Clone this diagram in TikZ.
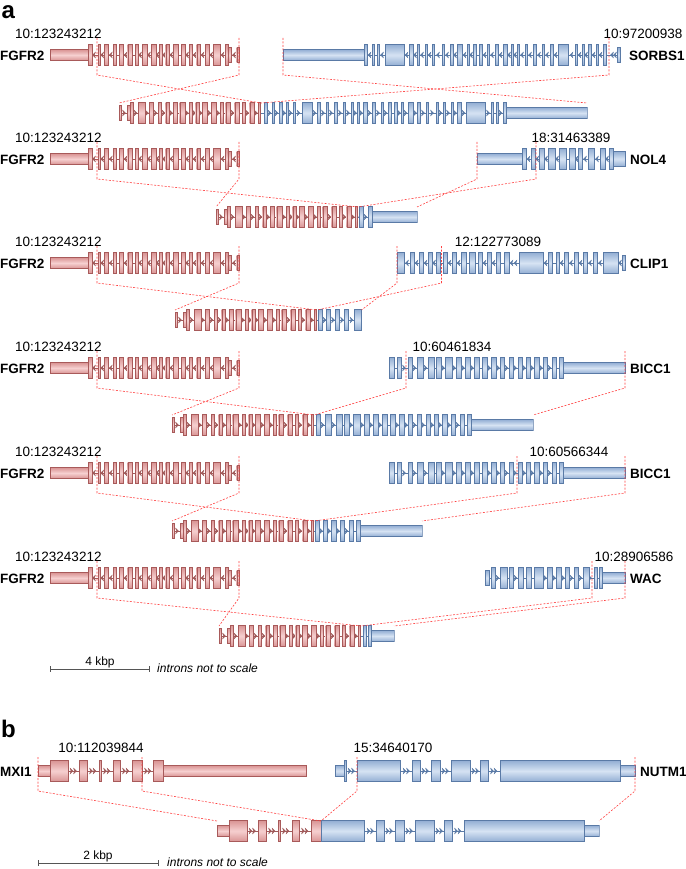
\documentclass[tikz,border=0pt]{standalone}
\usepackage{fontspec}
\setmainfont{Liberation Sans}
\definecolor{rE}{HTML}{D99494}
\definecolor{rM}{HTML}{F6D0D0}
\definecolor{rB}{HTML}{A85A5A}
\definecolor{rL}{HTML}{A05A5A}
\definecolor{bE}{HTML}{93AED4}
\definecolor{bM}{HTML}{D6E3F3}
\definecolor{bB}{HTML}{5A7AA6}
\definecolor{bL}{HTML}{5A7AA6}
\definecolor{lnk}{HTML}{FF4040}
\definecolor{sbar}{HTML}{555555}
\newcommand\lblfont{\fontsize{13.5}{16}\selectfont}
\tikzset{
 lbl/.style={font=\lblfont, inner sep=0pt},
 gname/.style={font=\bfseries\lblfont, inner sep=0pt},
 panel/.style={font=\bfseries\fontsize{24}{27}\selectfont, inner sep=0pt},
 note/.style={font=\itshape\fontsize{12}{14}\selectfont, inner sep=0pt},
 sbtext/.style={font=\fontsize{12}{14}\selectfont, inner sep=0pt},
 rexon/.style={draw=rB, line width=0.4pt, top color=rE, bottom color=rE, middle color=rM},
 bexon/.style={draw=bB, line width=0.4pt, top color=bE, bottom color=bE, middle color=bM},
 rline/.style={draw=rL, line width=0.9pt},
 bline/.style={draw=bL, line width=0.9pt},
 rchev/.style={fill=rL, draw=rL, line width=0.2pt},
 bchev/.style={fill=bL, draw=bL, line width=0.2pt},
 bplink/.style={draw=lnk, line width=0.6pt, dash pattern=on 2pt off 1.5pt},
 sbline/.style={draw=sbar, line width=0.8pt},
}
% #1 y, #2 from, #3 to, #4 exons, #5 chevrons, #6 colour key, #7 direction (1 = <, -1 = >)
\newcommand\drawgene[7]{%
  \draw[#6line] (#2,#1) -- (#3,#1);
  \foreach \c in #5 {\path[#6chev] ({\c+1.5*(#7)},{#1-3}) -- ({\c-1.6*(#7)},{#1}) -- ({\c+1.5*(#7)},{#1+3}) -- ({\c+0.5*(#7)},{#1}) -- cycle;}
  \foreach \a/\b/\k in #4 {%
    \ifnum\k=0 \def\hh{10.5}\fi
    \ifnum\k=1 \def\hh{5.5}\fi
    \ifnum\k=2 \def\hh{7.5}\fi
    \draw[#6exon] (\a,{#1-\hh}) rectangle (\b,{#1+\hh});}%
}
\newcommand\blink[6]{%
  \coordinate (#1t) at (#2,{#3});
  \coordinate (#1m) at (#2,{#4});
  \coordinate (#1f) at ({#5},{#6});
  \draw[bplink] (#1t) -- (#1m) -- (#1f);}
% gene data
\def\FGex{50/88/1,88/91.7/0,98.3/100/0,104.3/108.3/0,113.3/116/0,119/123.3/0,127.7/132.3/0,135/137.7/0,142.3/146.7/0,151/155.7/0,159/162.3/0,165.7/169/0,173.3/178.3/0,181/185/0,189/192.3/0,196.7/200/0,205/209/0,213.3/220/0,225/227.7/0,227.7/231/2,236.7/239/2}
\def\FGch{94,102.2,110.8,125.5,140,148.9,157.4,164,171.2,187,194.5,202.5,211.2,222.5,234}
\def\SOex{283/364/1,364/367/0,372/374/0,377/379/0,385/404/0,409/413/0,417/419/0,425/427/0,432/434/0,442/444/0,450/453/0,457/462/0,467/469/0,473/476/0,479/482/0,487/489/0,495/498/0,503/507/0,511/513/0,517/519/0,525/527/0,533/536/0,542/544/0,550/553/0,558/568/0,575/577/0,582/584/0,588/591/0,596/598/0,603/606/0,617/620/2}
\def\SOch{369.5,382,406.5,415,422,429.5,438,447,455,464.5,471,484.5,492,500.5,509,515,522,530,539,547,555.5,571.5,579.5,586,593.5,600.5,612,615}
\def\NOex{477/522/1,522/526/0,531/535/0,539/544/0,548/555/0,559/566/0,569/575/0,578/582/0,588/594/0,600/605/0,609/613/0,613/625/2}
\def\NOch{528.5,537.2,546,557,576.5,585,597,607}
\def\CLex{397/404/0,410/414/0,419/423/0,428/432/0,436/440/0,443/447/0,452/456/0,461/466/0,469/475/0,478/482/0,487/491/0,496/500/0,504/509/0,519/543/0,548/552/0,556/559/0,564/568/0,574/578/0,583/587/0,593/597/0,603/618/0,622/625/2}
\def\CLch{407,416.5,425.5,434,449.5,458.5,484.5,493.5,511.5,515.5,545.5,561.5,571,580.5,590,600,620}
\def\BIex{389/394/0,397/401/0,408/412/0,417/423/0,428/434/0,436/441/0,445/452/0,456/461/0,465/470/0,474/479/0,482/487/0,491/496/0,500/504/0,509/513/0,518.5/522/0,526/530/0,534/539/0,543/547/0,552/556/0,559/563/0,563/625/1}
\def\BIch{404,414.5,425.5,443,454,463,472,489,498,506.5,515,524,532,541,549.5}
\def\WAex{485/489/2,491/495/0,500/507/0,509/513/0,518/523/0,526/531/0,534/543/0,547/552/0,556/561/0,565/569/0,574/578/0,583/589/0,594/597/0,599/602/0,602/625/1}
\def\WAch{497.5,515.5,545,554,563,571.5,580.5,590}
\def\MXex{38/50/1,50/68/0,79/87/0,99/101/0,113/120/0,132/142/0,153/163/0,163/306/1}
\def\MXch{71.5,75,91,94.5,105,108.5,124,127.5,146,149.5}
\def\NUex{335/344/1,344/346/0,357/400/0,412/420/0,431/440/0,451/470/0,480/488/0,500/620/0,620/635/1}
\def\NUch{349.5,353,404.5,408,423.5,427,443.5,447,473.5,477,492,495.5}
\newcommand\FGFR[1]{\drawgene{#1}{50}{239}{\FGex}{\FGch}{r}{1}}
% FGFR2 side of a row: #1 name, #2 gene y, #3 fusion y, #4 offset
\newcommand\fgside[4]{%
  \node[lbl, anchor=west] (#1pos) at (15,{#2-21}) {10:123243212};
  \node[gname, anchor=west] (#1name) at (0,{#2+1}) {FGFR2};
  \FGFR{#2}
  \begin{scope}[xshift=#4pt, xscale=-1]
    \clip (96.6,{#3-13}) rectangle (240,{#3+13});
    \FGFR{#3}
  \end{scope}
}
\newcommand\fglinks[4]{%
  \blink{#1a}{97}{#2-17}{#2+20}{#4-97}{#3-10}
  \blink{#1b}{239}{#2-17}{#2+20}{#4-239}{#3-10}}
\begin{document}
\begin{tikzpicture}[x=1pt,y=-1pt]
\useasboundingbox (0,0) rectangle (685,869);
\node[panel, anchor=base west] (pa) at (1.5,18.5) {a};
% ---------- row 1: FGFR2-SORBS1
\fgside{r1}{55}{113}{358}
\drawgene{55}{283}{620}{\SOex}{\SOch}{b}{1}
\node[lbl] (r1ppos) at (643,34) {10:97200938};
\node[gname, anchor=west] (r1pname) at (629,56) {SORBS1};
\begin{scope}[xshift=870pt, xscale=-1]
  \clip (282.5,100) rectangle (609,126);
  \drawgene{113}{283}{620}{\SOex}{\SOch}{b}{1}
\end{scope}
\fglinks{r1}{55}{113}{358}
\blink{r1c}{609}{38}{75}{261}{103}
\blink{r1d}{283}{38}{75}{587}{103}
% ---------- row 2: FGFR2-NOL4
\fgside{r2}{159}{217}{455}
\drawgene{159}{477}{625}{\NOex}{\NOch}{b}{1}
\node[lbl] (r2ppos) at (571,138) {18:31463389};
\node[gname, anchor=west] (r2pname) at (630,160) {NOL4};
\begin{scope}[xshift=894pt, xscale=-1]
  \clip (476.5,204) rectangle (536,230);
  \drawgene{217}{477}{625}{\NOex}{\NOch}{b}{1}
\end{scope}
\fglinks{r2}{159}{217}{455}
\blink{r2c}{536}{142}{179}{358}{207}
\blink{r2d}{477}{142}{179}{417}{207}
% ---------- row 3: FGFR2-CLIP1
\fgside{r3}{263}{320}{414}
\drawgene{263}{397}{625}{\CLex}{\CLch}{b}{1}
\node[lbl] (r3ppos) at (498,242) {12:122773089};
\node[gname, anchor=west] (r3pname) at (630,264) {CLIP1};
\begin{scope}[xshift=758.5pt, xscale=-1]
  \clip (396.5,307) rectangle (441.5,333);
  \drawgene{320}{397}{625}{\CLex}{\CLch}{b}{1}
\end{scope}
\fglinks{r3}{263}{320}{414}
\blink{r3c}{441.5}{246}{283}{317}{310}
\blink{r3d}{397}{246}{283}{361.5}{310}
% ---------- row 4: FGFR2-BICC1
\fgside{r4}{368}{425}{411}
\drawgene{368}{389}{625}{\BIex}{\BIch}{b}{-1}
\node[lbl] (r4ppos) at (452,347) {10:60461834};
\node[gname, anchor=west] (r4pname) at (630,369) {BICC1};
\begin{scope}[xshift=-92pt]
  \clip (406,412) rectangle (625.5,438);
  \drawgene{425}{389}{625}{\BIex}{\BIch}{b}{-1}
\end{scope}
\fglinks{r4}{368}{425}{411}
\blink{r4c}{406}{351}{388}{314}{415}
\blink{r4d}{625}{351}{388}{533}{415}
% ---------- row 5: FGFR2-BICC1
\fgside{r5}{473}{531}{411}
\drawgene{473}{389}{625}{\BIex}{\BIch}{b}{-1}
\node[lbl] (r5ppos) at (569,452) {10:60566344};
\node[gname, anchor=west] (r5pname) at (630,474) {BICC1};
\begin{scope}[xshift=-203pt]
  \clip (517,518) rectangle (625.5,544);
  \drawgene{531}{389}{625}{\BIex}{\BIch}{b}{-1}
\end{scope}
\fglinks{r5}{473}{531}{411}
\blink{r5c}{517}{456}{493}{314}{521}
\blink{r5d}{625}{456}{493}{422}{521}
% ---------- row 6: FGFR2-WAC
\fgside{r6}{578}{636}{458}
\drawgene{578}{485}{625}{\WAex}{\WAch}{b}{-1}
\node[lbl] (r6ppos) at (634,557) {10:28906586};
\node[gname, anchor=west] (r6pname) at (630,579) {WAC};
\begin{scope}[xshift=-231pt]
  \clip (592,623) rectangle (625.5,649);
  \drawgene{636}{485}{625}{\WAex}{\WAch}{b}{-1}
\end{scope}
\fglinks{r6}{578}{636}{458}
\blink{r6c}{592}{561}{598}{361}{626}
\blink{r6d}{625}{561}{598}{394}{626}
% ---------- scale bar a
\coordinate (sa1) at (50,669);
\coordinate (sa2) at (149,669);
\draw[sbline] (sa1) -- (sa2);
\draw[sbline] ([yshift=3pt]sa1) -- ([yshift=-3pt]sa1);
\draw[sbline] ([yshift=3pt]sa2) -- ([yshift=-3pt]sa2);
\node[sbtext] (sat) at (100,662) {4 kbp};
\node[note, anchor=west] (san) at (157,668) {introns not to scale};
% ---------- panel b
\node[panel, anchor=base west] (pb) at (1,737) {b};
\drawgene{771}{38}{306}{\MXex}{\MXch}{r}{-1}
\drawgene{771}{335}{635}{\NUex}{\NUch}{b}{-1}
\node[lbl] (bmpos) at (101,748) {10:112039844};
\node[gname, anchor=west] (bmname) at (0,772) {MXI1};
\node[lbl] (bnpos) at (393,748) {15:34640170};
\node[gname, anchor=west] (bnname) at (640,772) {NUTM1};
\begin{scope}[xshift=179pt]
  \clip (37.5,818) rectangle (142.2,844);
  \drawgene{831}{38}{306}{\MXex}{\MXch}{r}{-1}
\end{scope}
\begin{scope}[xshift=-36pt]
  \clip (357,818) rectangle (635.5,844);
  \drawgene{831}{335}{635}{\NUex}{\NUch}{b}{-1}
\end{scope}
\blink{ba}{38}{757}{791}{217}{821}
\blink{bb}{142}{757}{791}{321}{821}
\blink{bc}{357}{757}{791}{321}{821}
\blink{bd}{635}{757}{791}{599}{821}
% ---------- scale bar b
\coordinate (sb1) at (38,863);
\coordinate (sb2) at (158,863);
\draw[sbline] (sb1) -- (sb2);
\draw[sbline] ([yshift=3pt]sb1) -- ([yshift=-3pt]sb1);
\draw[sbline] ([yshift=3pt]sb2) -- ([yshift=-3pt]sb2);
\node[sbtext] (sbt) at (98,856) {2 kbp};
\node[note, anchor=west] (sbn) at (167,862) {introns not to scale};
\end{tikzpicture}
\end{document}
